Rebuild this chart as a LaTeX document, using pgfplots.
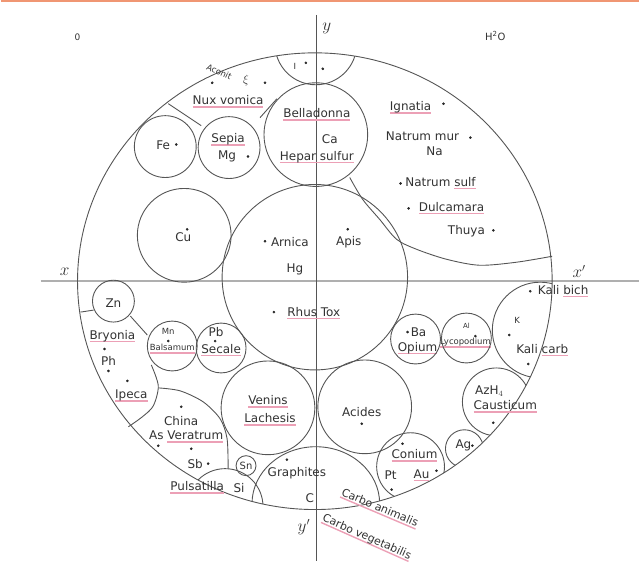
\documentclass[border=0pt]{standalone}
\usepackage{fontspec}
\setmainfont{DejaVu Sans}
\usepackage{pgfplots}
\pgfplotsset{compat=1.18}
\definecolor{cline}{RGB}{85,85,85}
\definecolor{ctext}{RGB}{50,50,50}
\definecolor{ulpink}{RGB}{236,160,182}
\definecolor{axgray}{RGB}{175,175,175}
\definecolor{topor}{RGB}{240,150,115}
\newsavebox\pubox
\newcommand\pu[1]{\sbox\pubox{#1}\rlap{\color{ulpink}\rule[-2.8pt]{\wd\pubox}{1.4pt}}\usebox\pubox}
\begin{document}
\begin{tikzpicture}[
  lbl/.style={font=\fontsize{12}{14}\selectfont,text=ctext,inner sep=0pt},
  sml/.style={font=\fontsize{8.5}{10}\selectfont,text=ctext,inner sep=0pt},
  cl/.style={draw=cline,line width=0.9pt}]
\begin{axis}[x=1pt,y=1pt,xmin=0,xmax=640,ymin=0,ymax=563,y dir=reverse,
  hide axis,clip=false]
\addplot[draw=none,forget plot] coordinates {(0,0) (640,563)};
% top border line
\addplot[topor,line width=1.5pt] coordinates {(0,1) (640,1)};
% axes lines
\addplot[axgray,line width=2.2pt] coordinates {(40,282) (640,282)};
\addplot[cline,line width=0.9pt] coordinates {(317,15) (317,563)};
% outer circle
\draw[cl] (axis cs:315,282) ellipse [x radius=238, y radius=229];
% full circles
\addplot[only marks, mark=o, scatter,
  scatter/use mapped color={draw=cline,fill=none},
  mark options={line width=0.9pt},
  visualization depends on={\thisrow{r}\as\rr},
  scatter/@pre marker code/.append style={/tikz/mark size=\rr}]
 table {
x y r
165 147 31
229 148 31
316 135 52
184 236 47
315 278 93
113 302 21
172 347 25
221 349 25
268 409 47
246 467 10
365 408 47
416 340 25
467 339 25
};
% circles clipped by the outer circle
\pgfplotsextra{
\begin{scope}
\clip (axis cs:315,282) ellipse [x radius=238, y radius=229];
\draw[cl] (axis cs:316,44) circle [radius=41];
\draw[cl] (axis cs:225,508) circle [radius=38];
\draw[cl] (axis cs:316,505) ellipse [x radius=64, y radius=57];
\draw[cl] (axis cs:411,468) circle [radius=34];
\draw[cl] (axis cs:465,450) circle [radius=19];
\draw[cl] (axis cs:497,403) circle [radius=34];
\draw[cl] (axis cs:541,331) circle [radius=48];
\end{scope}
}
% dividing curves
\addplot[cl,smooth] coordinates {(350,178) (363,200) (380,220) (397,240) (417,250) (447,260) (480,266) (517,263) (553,257)};
\addplot[cl] coordinates {(168,104) (201,126)};
\addplot[cl] coordinates {(277,99) (260,118)};
\addplot[cl] coordinates {(80,313) (93,311)};
\addplot[cl] coordinates {(130,317) (147,336)};
\addplot[cl,smooth] coordinates {(151,366) (158,387) (153,407) (142,418) (128,428)};
\addplot[cl,smooth] coordinates {(158,389) (180,392) (203,403) (220,420) (227,440) (228,470)};
% dots
\addplot[only marks, mark=*, mark size=1.1pt, color=black!85] table {
x y
306 63
323 69
212 83
265 83
176 145
248 157
187 230
265 242
348 230
274 313
444 104
471 138
401 184
409 209
494 231
531 292
510 336
529 365
408 333
476 337
168 342
215 342
104 350
108 372
127 382
362 425
181 408
158 447
191 450
208 465
287 461
403 445
392 491
437 472
494 424
473 447
};
% labels outside
\node[font=\fontsize{9}{10}\selectfont,text=ctext] at (axis cs:77,37) {0};
\node[font=\fontsize{10}{12}\selectfont,text=ctext] at (axis cs:496,36) {H\textsuperscript{2}O};
\node[font=\fontsize{16}{18}\selectfont,text=ctext] at (axis cs:327,29) {$y$};
\node[font=\fontsize{16}{18}\selectfont,text=ctext] at (axis cs:64,273) {$x$};
\node[font=\fontsize{16}{18}\selectfont,text=ctext] at (axis cs:580,272) {$x'$};
\node[font=\fontsize{16}{18}\selectfont,text=ctext] at (axis cs:304,529) {$y'$};
% upper part
\node[sml] at (axis cs:295,67) {I};
\node[sml,rotate=-25] at (axis cs:219,72) {Aconit};
\node[lbl] at (axis cs:246,81) {$\xi$};
\node[lbl] at (axis cs:228,102) {\pu{Nux vomica}};
\node[lbl] at (axis cs:163,146) {Fe};
\node[lbl] at (axis cs:228,140) {\pu{Sepia}};
\node[lbl] at (axis cs:227,157) {Mg};
\node[lbl] at (axis cs:317,115) {\pu{Belladonna}};
\node[lbl] at (axis cs:330,140) {Ca};
\node[lbl] at (axis cs:317,158) {\pu{Hepar sulfur}};
\node[lbl] at (axis cs:183,238) {Cu};
\node[lbl] at (axis cs:290,243) {Arnica};
\node[lbl] at (axis cs:295,270) {Hg};
\node[lbl] at (axis cs:349,243) {Apis};
\node[lbl] at (axis cs:314,314) {\pu{Rhus Tox}};
\node[lbl] at (axis cs:411,108) {\pu{Ignatia}};
\node[lbl] at (axis cs:423,137) {Natrum mur};
\node[lbl] at (axis cs:435,152) {Na};
\node[lbl] at (axis cs:441,184) {Natrum \pu{sulf}};
\node[lbl] at (axis cs:452,209) {\pu{Dulcamara}};
\node[lbl] at (axis cs:467,232) {Thuya};
% lower left
\node[lbl] at (axis cs:113,304) {Zn};
\node[lbl] at (axis cs:112,337) {\pu{Bryonia}};
\node[lbl] at (axis cs:108,362) {Ph};
\node[lbl] at (axis cs:131,397) {\pu{Ipeca}};
\node[sml] at (axis cs:168,332) {Mn};
\node[sml] at (axis cs:172,350) {\pu{Balsamum}};
\node[lbl] at (axis cs:216,333) {Pb};
\node[lbl] at (axis cs:221,351) {\pu{Secale}};
\node[lbl] at (axis cs:181,422) {China};
\node[lbl] at (axis cs:186,438) {As \pu{Veratrum}};
\node[lbl] at (axis cs:195,465) {Sb};
\node[lbl] at (axis cs:197,489) {\pu{Pulsatilla}};
\node[lbl] at (axis cs:239,489) {Si};
\node[font=\fontsize{10}{12}\selectfont,text=ctext,inner sep=0pt] at (axis cs:246,467) {Sn};
\node[lbl] at (axis cs:268,403) {\pu{Venins}};
\node[lbl] at (axis cs:270,421) {\pu{Lachesis}};
\node[lbl] at (axis cs:297,475) {Graphites};
\node[lbl] at (axis cs:310,500) {C};
% lower right
\node[lbl] at (axis cs:419,333) {Ba};
\node[lbl] at (axis cs:418,349) {\pu{Opium}};
\node[font=\fontsize{7}{8}\selectfont,text=ctext,inner sep=0pt] at (axis cs:467,327) {Al};
\node[sml] at (axis cs:466,344) {\pu{Lycopodium}};
\node[lbl] at (axis cs:362,413) {Acides};
\node[lbl] at (axis cs:415,457) {\pu{Conium}};
\node[lbl] at (axis cs:391,477) {Pt};
\node[lbl] at (axis cs:422,477) {\pu{Au}};
\node[lbl] at (axis cs:464,447) {Ag};
\node[lbl] at (axis cs:490,392) {AzH$_4$};
\node[lbl] at (axis cs:506,408) {\pu{Causticum}};
\node[sml] at (axis cs:518,321) {K};
\node[lbl] at (axis cs:543,351) {Kali \pu{carb}};
\node[lbl] at (axis cs:564,292) {Kali \pu{bich}};
\node[font=\fontsize{11}{13}\selectfont,text=ctext,inner sep=0pt,rotate=-23] at (axis cs:380,510) {\pu{Carbo animalis}};
\node[font=\fontsize{11}{13}\selectfont,text=ctext,inner sep=0pt,rotate=-24] at (axis cs:367,539) {\pu{Carbo vegetabilis}};
\end{axis}
\end{tikzpicture}
\end{document}
